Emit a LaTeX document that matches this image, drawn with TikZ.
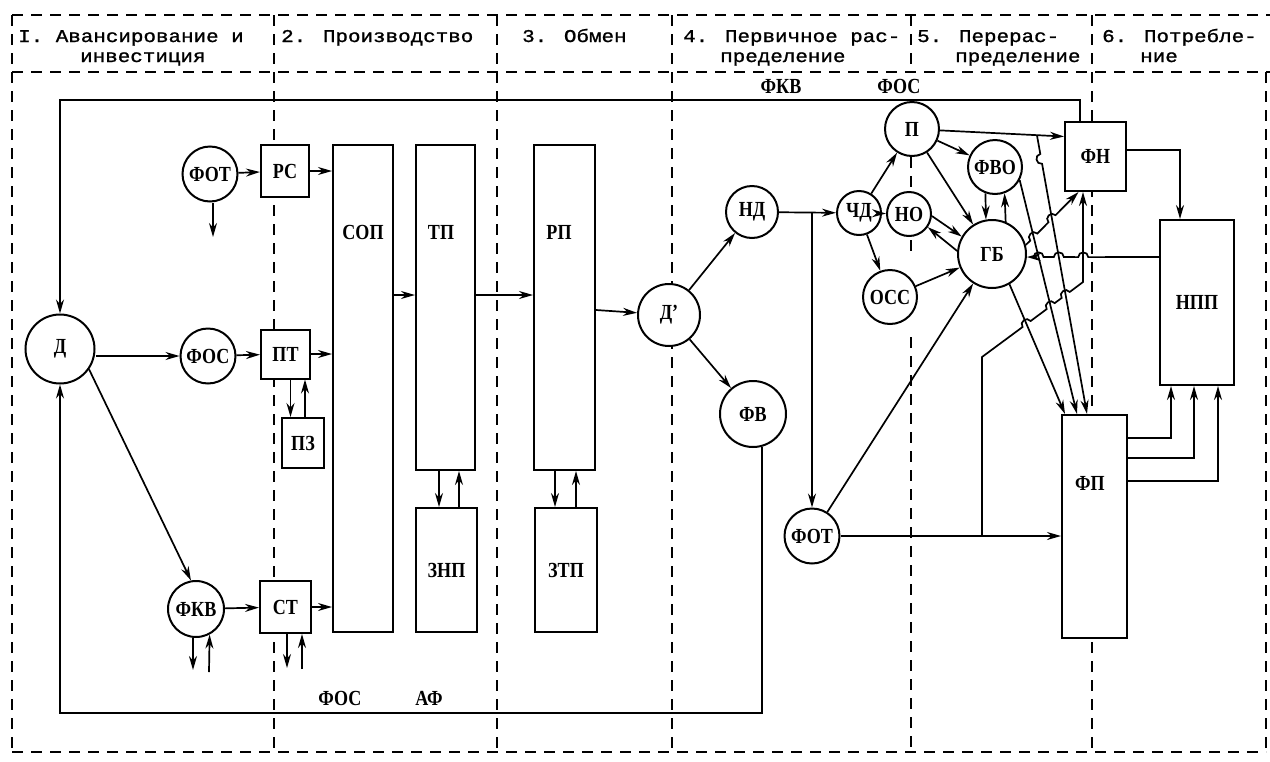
\documentclass[tikz,border=0pt]{standalone}
\usepackage{fontspec}
\newfontfamily\headfont{Liberation Mono}[FakeStretch=1.16, FakeBold=1.2]
\newfontfamily\nodefont{Liberation Serif}[FakeStretch=0.84]
\newcommand\nodelbl{\nodefont\bfseries\fontsize{21.5}{21.5}\selectfont}
\usetikzlibrary{arrows.meta,calc}

\begin{document}
\begin{tikzpicture}[x=1pt, y=-1pt,
    fdash/.style={line width=2.6pt, dash pattern=on 11pt off 8pt},
    farr/.style={line width=1.7pt, -{Stealth[length=14pt,width=8pt]}},
    fring/.style={draw, circle, line width=2pt, fill=white, inner sep=0pt, font=\nodelbl},
    fbox/.style={draw, rectangle, line width=2pt, fill=white, inner sep=0pt, font=\nodelbl},
    fword/.style={inner sep=1pt, font=\nodelbl},
    fhead/.style={anchor=base west, inner sep=0pt, font=\headfont\fontsize{18}{18}\selectfont},
    hopl/.style={bend left=90, looseness=1.6},
    hopr/.style={bend right=90, looseness=1.6}]
  \useasboundingbox (0,0) rectangle (1270,761);

  % frame of the stages
  \draw[fdash] (12,15) -- (1270,15);
  \draw[fdash] (12,72) -- (1270,72);
  \draw[fdash] (12,752) -- (1266,752);
  \draw[fdash] (12,15) -- (12,752);
  \draw[fdash] (274,15) -- (274,752);
  \draw[fdash] (497,15) -- (497,752);
  \draw[fdash] (672,15) -- (672,752);
  \draw[fdash] (911,15) -- (911,72);
  \draw[fdash] (911,157) -- (911,190);
  \draw[fdash] (911,240) -- (911,252);
  \draw[fdash] (911,337) -- (911,752);
  \draw[fdash] (1092,15) -- (1092,752);
  \draw[fdash] (1266,72) -- (1266,752);

  \node[fhead] (h1a) at (18,42) {I. Авансирование и};
  \node[fhead] (h1b) at (80,62) {инвестиция};
  \node[fhead] (h2) at (281,42) {2. Производство};
  \node[fhead] (h3) at (522,42) {3. Обмен};
  \node[fhead] (h4a) at (683,42) {4. Первичное рас-};
  \node[fhead] (h4b) at (720,62) {пределение};
  \node[fhead] (h5a) at (917,42) {5. Перерас-};
  \node[fhead] (h5b) at (955,62) {пределение};
  \node[fhead] (h6a) at (1102,42) {6. Потребле-};
  \node[fhead] (h6b) at (1140,62) {ние};

  % left part
  \node[fring, minimum size=69pt] (d) at (60,349) {Д};
  \node[fring, minimum size=55pt] (fot1) at (210,174) {ФОТ};
  \node[fbox, minimum width=48pt, minimum height=52pt] (rs) at (285,171) {РС};
  \node[fring, minimum size=55pt] (fos1) at (208,356) {ФОС};
  \node[fbox, minimum width=49pt, minimum height=49pt] (pt) at (285.5,354) {ПТ};
  \node[fbox, minimum width=42pt, minimum height=50pt] (pz) at (303,443) {ПЗ};
  \node[fring, minimum size=56pt] (fkv) at (196,609) {ФКВ};
  \node[fbox, minimum width=51pt, minimum height=52pt] (st) at (285.5,607) {СТ};

  \node[fbox, minimum width=60pt, minimum height=487pt] (sop) at (363,388.5) {};
  \node[fword] (sopt) at (363,232) {СОП};
  \node[fbox, minimum width=59pt, minimum height=325pt] (tp) at (445.5,307.5) {};
  \node[fword] (tpt) at (441,232) {ТП};
  \node[fbox, minimum width=61pt, minimum height=124pt] (znp) at (446.5,570) {ЗНП};
  \node[fbox, minimum width=61pt, minimum height=325pt] (rp) at (564.5,307.5) {};
  \node[fword] (rpt) at (559,232) {РП};
  \node[fbox, minimum width=62pt, minimum height=124pt] (ztp) at (566,570) {ЗТП};

  % right part
  \node[fring, minimum size=62pt] (dd) at (669,315) {Д’};
  \node[fring, minimum size=52pt] (nd) at (752,212) {НД};
  \node[fring, minimum size=66pt] (fv) at (753,414) {ФВ};
  \node[fring, minimum size=55pt] (fot2) at (812,536) {ФОТ};
  \node[fring, minimum size=44pt] (chd) at (859,213) {ЧД};
  \node[fring, minimum size=44pt] (no) at (909,214) {НО};
  \node[fring, minimum size=54pt] (p) at (912,129) {П};
  \node[fring, minimum size=54pt] (oss) at (890,297) {ОСС};
  \node[fring, minimum size=68pt] (gb) at (992,254) {ГБ};
  \node[fring, minimum size=54pt] (fvo) at (995,167) {ФВО};
  \node[fbox, minimum width=61pt, minimum height=69pt] (fn) at (1095.5,156.5) {ФН};
  \node[fbox, minimum width=65pt, minimum height=223pt] (fp) at (1094.5,526.5) {};
  \node[fword] (fpt) at (1090,483) {ФП};
  \node[fbox, minimum width=74pt, minimum height=165pt] (npp) at (1197,302.5) {НПП};

  \node[fword] (fkvl) at (781,86) {ФКВ};
  \node[fword] (fosl) at (899,86) {ФОС};
  \node[fword] (fosb) at (340,698) {ФОС};
  \node[fword] (afb) at (429,698) {АФ};

  % connectors, left
  \draw[farr] (d.east |- fos1) -- (fos1);
  \draw[farr] (fos1) -- (pt);
  \draw[farr] (pt) -- (pt -| sop.west);
  \draw[farr] (fot1) -- (rs);
  \draw[farr] (rs) -- (rs -| sop.west);
  \draw[farr] (d.-35) -- (fkv.100);
  \draw[farr] (fkv) -- (st);
  \draw[farr] (st) -- (st -| sop.west);

  \coordinate (fot1o) at (213,237);
  \coordinate (fkvo) at (193,670);
  \coordinate (fkvi) at (209,672);
  \coordinate (sto) at (287,668);
  \coordinate (sti) at (302,669);
  \draw[farr] (fot1o |- fot1.south) -- (fot1o);
  \draw[farr] (fkv.-96) -- (fkvo);
  \draw[farr] (fkvi) -- (fkv.-62);
  \draw[farr] (sto |- st.south) -- (sto);
  \draw[farr] (sti) -- (sti |- st.south);
  \draw[farr] ([xshift=5pt]pt.south) -- ([xshift=5pt]pt.south |- pz.north);
  \draw[farr] ([xshift=19.5pt]pt.south |- pz.north) -- ([xshift=19.5pt]pt.south);

  \coordinate (lv1) at (0,295);
  \coordinate (lv2) at (0,310);
  \draw[farr] (sop.east |- lv1) -- (tp.west |- lv1);
  \draw[farr] (tp.east |- lv1) -- (rp.west |- lv1);
  \draw[farr] (rp.east |- lv2) -- (dd);
  \draw[farr] ([xshift=-6.5pt]tp.south) -- ([xshift=-6.5pt]tp.south |- znp.north);
  \draw[farr] ([xshift=13.5pt]tp.south |- znp.north) -- ([xshift=13.5pt]tp.south);
  \draw[farr] ([xshift=-9.5pt]rp.south) -- ([xshift=-9.5pt]rp.south |- ztp.north);
  \draw[farr] ([xshift=11.5pt]rp.south |- ztp.north) -- ([xshift=11.5pt]rp.south);

  % loops back to D
  \coordinate (ltop) at (0,100);
  \coordinate (lbot) at (0,713);
  \draw[farr] ([xshift=-15.5pt]fn.north) |- (d |- ltop) -- (d);
  \draw[farr] (fv.-75) |- (d |- lbot) -- (d);

  % connectors, right
  \draw[farr] (dd) -- (nd);
  \draw[farr] (dd) -- (fv);
  \draw[farr] (nd) -- (chd);
  \coordinate (j1) at (fot2 |- nd);
  \draw[farr] (j1) -- (fot2);
  \draw[farr] (chd) -- (p);
  \draw[farr] (chd) -- (no);
  \draw[farr] (chd) -- (oss);
  \draw[farr] (p) -- (fvo);
  \draw[farr] (p) -- (gb);
  \draw[farr] (no.-5) -- (gb.150);
  \draw[farr] (gb.175) -- (no.-35);
  \draw[farr] (oss) -- (gb);
  \draw[farr] (fot2) -- (gb);
  \draw[farr] (fvo.-110) -- (gb.100);
  \draw[farr] (gb.67) -- (fvo.-70);
  \draw[farr] (fot2) -- (fot2 -| fp.west);
  \coordinate (pfn) at ([yshift=20pt]fn.west);
  \draw[farr] (p) -- (pfn);
  \draw[farr] ([yshift=6.5pt]fn.east) -| ([xshift=-17pt]npp.north);
  \draw[farr] ([yshift=88.5pt]fp.east) -| ([xshift=-26pt]npp.south);
  \draw[farr] ([yshift=68.5pt]fp.east) -| ([xshift=-3pt]npp.south);
  \draw[farr] ([yshift=45.5pt]fp.east) -| ([xshift=21pt]npp.south);

  % crossing lines with hops
  \coordinate (va) at (1037,0);
  \coordinate (vb) at (1037,700);
  \coordinate (j2) at (intersection of p--pfn and va--vb);
  \coordinate (k1) at (982,357);
  \coordinate (k2) at (1083,282);
  \coordinate (j3) at (fot2 -| k1);
  \coordinate (fp1) at ([xshift=26pt]fp.north west);
  \coordinate (fp2) at ([xshift=16pt]fp.north west);
  \coordinate (fp3) at ([xshift=4pt]fp.north west);
  \coordinate (fnb1) at ([xshift=-17pt]fn.south);
  \coordinate (fnb2) at ([xshift=-12.5pt]fn.south);
  \coordinate (gbo) at (gb.15);
  \coordinate (gbi) at (gb.-5);
  \coordinate (gbd) at (gb.-60);
  \coordinate (fvod) at (fvo.-28);
  \coordinate (nppo) at (npp.west |- gbi);
  \coordinate (c0) at ($(j2)!0.085!(fp1)$);
  \coordinate (c1) at (intersection of j2--fp1 and gbo--fnb1);
  \coordinate (c2) at (intersection of fvod--fp2 and gbo--fnb1);
  \coordinate (c3) at (intersection of nppo--gbi and fvod--fp2);
  \coordinate (c4) at (intersection of nppo--gbi and j2--fp1);
  \coordinate (c5) at (intersection of nppo--gbi and k2--fnb2);
  \coordinate (c6) at (intersection of k1--k2 and gbd--fp3);
  \coordinate (c7) at (intersection of k1--k2 and fvod--fp2);
  \coordinate (c8) at (intersection of k1--k2 and j2--fp1);

  \draw[farr] (gbd) -- (fp3);
  \draw[farr] (fvod) -- (fp2);
  \draw[farr] (j2) -- ($(c0)!5pt!(j2)$) to[hopr] ($(c0)!5pt!(fp1)$) -- (fp1);
  \draw[farr] (gbo) -- ($(c2)!5pt!(gbo)$) to[hopl] ($(c2)!5pt!(fnb1)$)
    -- ($(c1)!5pt!(gbo)$) to[hopl] ($(c1)!5pt!(fnb1)$) -- (fnb1);
  \draw[farr] (nppo) -- ($(c5)!5pt!(nppo)$) to[hopr] ($(c5)!5pt!(gbi)$)
    -- ($(c4)!5pt!(nppo)$) to[hopr] ($(c4)!5pt!(gbi)$)
    -- ($(c3)!5pt!(nppo)$) to[hopr] ($(c3)!5pt!(gbi)$) -- (gbi);
  \draw[farr] (j3) -- (k1) -- ($(c6)!5pt!(k1)$) to[hopl] ($(c6)!5pt!(k2)$)
    -- ($(c7)!5pt!(k1)$) to[hopl] ($(c7)!5pt!(k2)$)
    -- ($(c8)!5pt!(k1)$) to[hopl] ($(c8)!5pt!(k2)$) -- (k2) -- (fnb2);
\end{tikzpicture}
\end{document}
